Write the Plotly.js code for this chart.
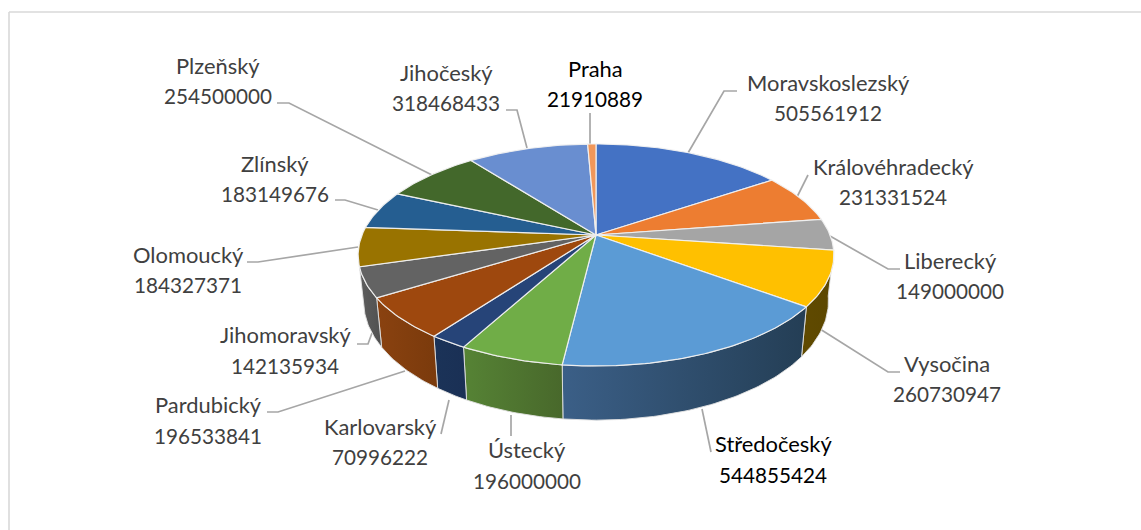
<!DOCTYPE html>
<html>
<head>
<meta charset="utf-8">
<script src="https://cdn.plot.ly/plotly-3.0.1.min.js"></script>
<style>html,body{margin:0;padding:0;background:#fff}#chart{width:1141px;height:530px}</style>
</head>
<body>
<div id="chart"></div>
<script>
// ---- data, clockwise from 12 o'clock ----
const regions = ["Moravskoslezský","Královéhradecký","Liberecký","Vysočina","Středočeský","Ústecký","Karlovarský","Pardubický","Jihomoravský","Olomoucký","Zlínský","Plzeňský","Jihočeský","Praha"];
const amounts = [505561912,231331524,149000000,260730947,544855424,196000000,70996222,196533841,142135934,184327371,183149676,254500000,318468433,21910889];

// ---- styles ----
const topColors = ["#4472C4","#ED7D31","#A5A5A5","#FFC000","#5B9BD5","#70AD47","#264478","#9E480E","#636363","#997300","#255E91","#43682B","#698ED0","#F1975A"];
const wallShades = [null,null,null,["#604A00","#5C4700"],["#3B5F87","#243E55"],["#568335","#48682B"],["#1B3358","#1A3055"],["#8A4210","#7A3A0C"],["#5E5E5E","#505050"],null,null,null,null,null];
const darkLabels = ["Středočeský","Praha"];

// ---- label layout: centre x, first-line y, second-line y ----
const labelX  = [828,893,950,947,773,527,380,208,285,188,275,218,446,595];
const labelY1 = [82.5,166.5,260.5,363.5,443.5,449.5,426.5,404.5,334.5,254.5,163.5,65.5,72.5,68.5];
const labelY2 = [113,197,291,394,475,481,457,436,366,285,194,96,103,99];

// ---- leader lines ----
const leaderX = [[737,724,688],[808,797],[900,888,830],[900,888,820],[711,702],[511,511],[441,449],[267,278,405],[357,368,372],[247,258,358],[335,345,378],[277,289,432],[506,517,527],[590,590]];
const leaderY = [[91,91,153],[175,197],[269,269,236],[372,372,329],[452,409],[436,415],[434,400],[412,412,371],[344,344,333],[262,262,247],[200,200,210],[103,103,175],[110,110,148],[113,145]];

// ---- perspective of the pie (projected circle) ----
const cx = 596, cy = 235, scaleX = 234, scaleY = 107.4, tilt = 0.18;
const floorY = 280, floorScaleX = 0.977, floorScaleY = 1.07;

function rim(theta){
  const u = Math.sin(theta), v = -Math.cos(theta), w = 1 - tilt * v;
  return [cx + scaleX * u / w, cy + scaleY * v / w];
}
function floorOf(p){
  return [cx + floorScaleX * (p[0] - cx), floorY + floorScaleY * (p[1] - cy)];
}
function arc(a0, a1){
  const n = Math.max(2, Math.ceil((a1 - a0) / (Math.PI / 180)));
  const pts = [];
  for (let i = 0; i <= n; i++) pts.push(rim(a0 + (a1 - a0) * i / n));
  return pts;
}

const total = amounts.reduce((s, x) => s + x, 0);
const traces = [];
let cumulative = 0;
const spans = amounts.map(val => {
  const a0 = cumulative / total * 2 * Math.PI;
  cumulative += val;
  return [a0, cumulative / total * 2 * Math.PI];
});

// leader lines underneath
leaderX.forEach((xs, i) => traces.push({
  type: "scatter", mode: "lines", x: xs, y: leaderY[i], hoverinfo: "skip", showlegend: false,
  line: {color: "#A6A6A6", width: 1.7}
}));

// walls
spans.forEach((s, i) => {
  if (!wallShades[i]) return;
  const t = arc(s[0], s[1]);
  const b = t.map(floorOf).reverse();
  const pts = t.concat(b);
  pts.push(t[0]);
  traces.push({
    type: "scatter", mode: "lines", x: pts.map(p => p[0]), y: pts.map(p => p[1]),
    fill: "toself", hoverinfo: "skip", showlegend: false,
    fillgradient: {type: "horizontal", colorscale: [[0, wallShades[i][0]], [1, wallShades[i][1]]]},
    line: {color: "rgba(225,225,225,0.9)", width: 1}
  });
});

// top faces
spans.forEach((s, i) => {
  const pts = [[cx, cy]].concat(arc(s[0], s[1]));
  pts.push([cx, cy]);
  traces.push({
    type: "scatter", mode: "lines", name: regions[i], x: pts.map(p => p[0]), y: pts.map(p => p[1]),
    fill: "toself", fillcolor: topColors[i], hoverinfo: "skip", showlegend: false,
    line: {color: "rgba(240,240,240,0.95)", width: 1.2}
  });
});

const labelFont = (name, size) => ({family: "Lato, 'Open Sans', sans-serif", size: size, color: darkLabels.includes(name) ? "#000000" : "#404040"});
const annotations = [];
regions.forEach((name, i) => {
  annotations.push({x: labelX[i], y: labelY1[i], xref: "x", yref: "y", text: name, showarrow: false, xanchor: "center", yanchor: "middle", font: labelFont(name, 21.9)});
  annotations.push({x: labelX[i], y: labelY2[i], xref: "x", yref: "y", text: String(amounts[i]), showarrow: false, xanchor: "center", yanchor: "middle", font: labelFont(name, 20.7)});
});

const layout = {
  width: 1141, height: 530,
  margin: {l: 0, r: 0, t: 0, b: 0},
  paper_bgcolor: "#ffffff", plot_bgcolor: "#ffffff",
  showlegend: false,
  xaxis: {range: [0, 1141], visible: false, fixedrange: true},
  yaxis: {range: [530, 0], visible: false, fixedrange: true},
  annotations: annotations,
  shapes: [
    {type: "line", xref: "x", yref: "y", x0: 9, x1: 9, y0: 12, y1: 530, line: {color: "#D9D9D9", width: 1.6}},
    {type: "line", xref: "x", yref: "y", x0: 9, x1: 1141, y0: 12, y1: 12, line: {color: "#D9D9D9", width: 1.6}}
  ]
};
Plotly.newPlot("chart", traces, layout, {displayModeBar: false, staticPlot: true});
</script>
</body>
</html>
